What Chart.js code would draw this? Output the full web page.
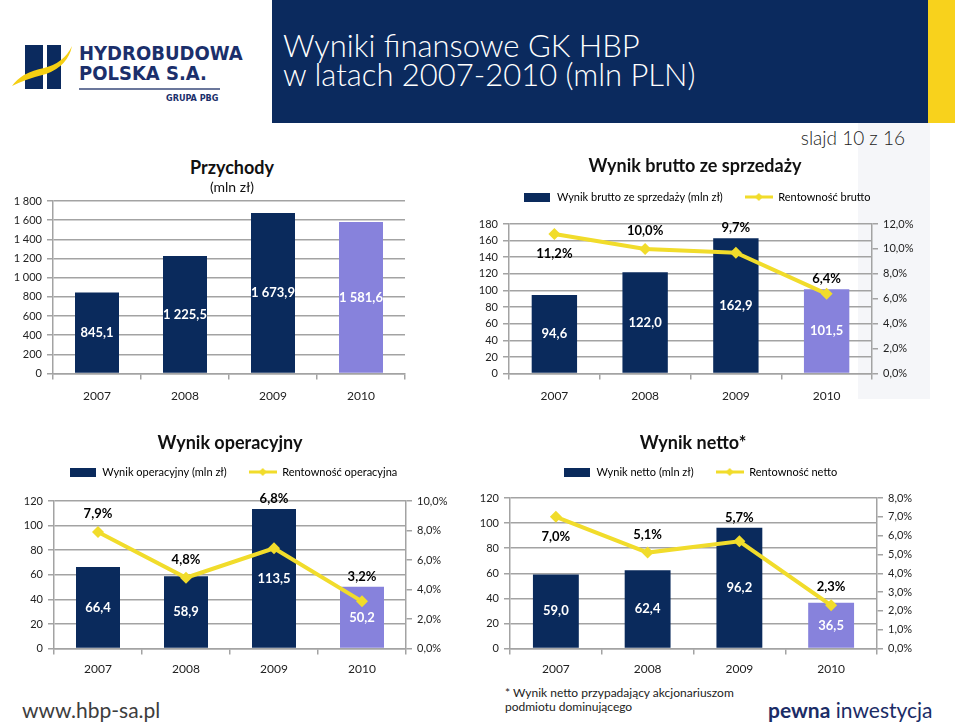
<!DOCTYPE html>
<html>
<head>
<meta charset="utf-8">
<script src="https://cdn.jsdelivr.net/npm/chart.js@4"></script>
<style>
body{margin:0;width:960px;height:728px;position:relative;background:#fff;font-family:Lato,"DejaVu Sans",sans-serif;overflow:hidden}
.abs{position:absolute}
canvas{position:absolute;z-index:2}
#band{left:272px;top:0;width:656px;height:123px;background:#0b2a5e}
#strip{left:928px;top:0;width:27px;height:123px;background:#f8d21c}
#panel{left:858px;top:123px;width:72px;height:276px;background:#f5f6f9;z-index:0}
#title{left:283px;top:31px;color:#fff;font-size:31px;font-weight:300;line-height:29px;white-space:nowrap}
#slide{right:55px;top:126px;font-size:19px;font-weight:300;color:#222;z-index:3}
.ct{text-align:center;font-weight:bold;font-size:18px;color:#111;z-index:3;white-space:nowrap}
.logo1{font-family:"DejaVu Sans Condensed","DejaVu Sans",sans-serif;font-weight:bold;color:#1b2f6b;font-size:20px;line-height:20px;white-space:nowrap}
</style>
</head>
<body>
<div id="band" class="abs"></div>
<div id="strip" class="abs"></div>
<div id="panel" class="abs"></div>

<svg class="abs" style="left:0;top:0" width="230" height="110">
  <rect x="25" y="45" width="18" height="44" fill="#0b2a5e"/>
  <rect x="47" y="45" width="14" height="44" fill="#0b2a5e"/>
  <path d="M12,86 Q22,72 44,68 Q64,63 72,46 Q68,66 46,74 Q26,79 12,86 Z" fill="#f5cf12"/>
  <line x1="79" y1="89" x2="220" y2="89" stroke="#3a4a7a" stroke-width="1.5"/>
</svg>
<div class="abs logo1" style="left:79px;top:43px">HYDROBUDOWA</div>
<div class="abs logo1" style="left:79px;top:63px">POLSKA S.A.</div>
<div class="abs" style="left:166px;top:93px;font-size:9px;font-weight:bold;color:#1b2f6b;font-family:'DejaVu Sans Condensed',sans-serif">GRUPA PBG</div>

<div id="title" class="abs">Wyniki finansowe GK HBP<br>w latach 2007-2010 (mln PLN)</div>
<div id="slide" class="abs">slajd 10 z 16</div>

<div class="abs ct" style="left:82px;top:156px;width:300px">Przychody</div>
<div class="abs ct" style="left:82px;top:178px;width:300px;font-weight:normal;font-size:14px">(mln zł)</div>
<div class="abs ct" style="left:545px;top:154px;width:300px">Wynik brutto ze sprzedaży</div>
<div class="abs ct" style="left:80px;top:431px;width:300px">Wynik operacyjny</div>
<div class="abs ct" style="left:543px;top:431px;width:300px">Wynik netto*</div>

<canvas id="c1" style="left:0;top:185px" width="420" height="231"></canvas>
<canvas id="c2" style="left:440px;top:160px" width="514" height="255"></canvas>
<canvas id="c3" style="left:0;top:435px" width="466" height="251"></canvas>
<canvas id="c4" style="left:480px;top:435px" width="440" height="251"></canvas>

<div class="abs" style="left:22px;top:697px;font-size:21px;color:#3d3d3d">www.hbp-sa.pl</div>
<div class="abs" style="left:505px;top:686px;font-size:12px;line-height:14px;color:#222">* Wynik netto przypadający akcjonariuszom<br>podmiotu dominującego</div>
<div class="abs" style="left:768px;top:697px;font-size:21px;color:#1b2c66"><b>pewna</b> inwestycja</div>

<script>
const years = ['2007', '2008', '2009', '2010'];
const przychody = [845.1, 1225.5, 1673.9, 1581.6];
const brutto = [94.6, 122.0, 162.9, 101.5];
const rentBrutto = [11.2, 10.0, 9.7, 6.4];
const operacyjny = [66.4, 58.9, 113.5, 50.2];
const rentOper = [7.9, 4.8, 6.8, 3.2];
const netto = [59.0, 62.4, 96.2, 36.5];
const rentNetto = [7.0, 5.1, 5.7, 2.3];

const NAVY = '#0a2a5c';
const LAV = '#8782dc';
const YEL = '#f1dc2b';
const GRID = '#a3a3a3';
const barColors = [NAVY, NAVY, NAVY, LAV];

Chart.defaults.font.family = 'Lato, "DejaVu Sans", sans-serif';

// polish number format: 1 225,5
function pl(v, d) {
    const s = v.toFixed(d).split('.');
    const i = s[0].replace(/\B(?=(\d{3})+(?!\d))/g, ' ');
    return s[1] ? i + ',' + s[1] : i;
}

function legendBox() {
    const c = document.createElement('canvas');
    c.width = 26; c.height = 9;
    const g = c.getContext('2d');
    g.fillStyle = NAVY;
    g.fillRect(0, 0, 26, 9);
    return c;
}
function legendLine() {
    const c = document.createElement('canvas');
    c.width = 28; c.height = 10;
    const g = c.getContext('2d');
    g.fillStyle = YEL;
    g.fillRect(0, 3.5, 28, 3);
    g.beginPath();
    g.moveTo(14, 1); g.lineTo(18, 5); g.lineTo(14, 9); g.lineTo(10, 5);
    g.fill();
    return c;
}
const boxImg = legendBox();
const lineImg = legendLine();

// extra space under the legend
const legendGap = {
    id: 'legendGap',
    beforeInit(chart, args, opts) {
        const lg = chart.legend;
        if (!lg) return;
        const fit = lg.fit;
        lg.fit = function () {
            fit.call(this);
            this.height += opts.extra || 0;
        };
    }
};

const valueLabels = {
    id: 'valueLabels',
    afterDatasetsDraw(chart, args, opts) {
        const ctx = chart.ctx;
        const bars = chart.getDatasetMeta(0);
        const barData = chart.data.datasets[0].data;
        ctx.save();
        ctx.textAlign = 'center';
        ctx.textBaseline = 'middle';
        ctx.font = 'bold 13px Lato, sans-serif';
        ctx.fillStyle = '#fff';
        bars.data.forEach((el, i) => {
            ctx.fillText(pl(barData[i], 1), el.x, (el.y + el.base) / 2);
        });
        if (chart.data.datasets.length > 1) {
            const line = chart.getDatasetMeta(1);
            const lineData = chart.data.datasets[1].data;
            const below = opts.below || [];
            ctx.fillStyle = '#000';
            line.data.forEach((pt, i) => {
                const top = bars.data[i].y;
                let y;
                if (below.includes(i)) y = pt.y + 20;
                else if (top < pt.y - 3) y = top - 10;
                else y = pt.y - 18;
                ctx.fillText(pl(lineData[i], 1) + '%', pt.x, y);
            });
        }
        ctx.restore();
    }
};

function buildChart(id, c) {
    const datasets = [{
        type: 'bar',
        label: c.barLabel,
        data: c.bars,
        backgroundColor: barColors,
        order: 1,
        barPercentage: 0.5,
        categoryPercentage: 1,
        yAxisID: 'y'
    }];
    if (c.line) {
        datasets.push({
            type: 'line',
            label: c.lineLabel,
            data: c.line,
            yAxisID: 'y2',
            order: 0,
            borderColor: YEL,
            backgroundColor: YEL,
            borderWidth: 4,
            pointStyle: 'rectRot',
            pointRadius: 6,
            pointBackgroundColor: YEL,
            pointBorderColor: YEL,
            pointBorderWidth: 0
        });
    }
    const scales = {
        x: {
            grid: { offset: true, drawOnChartArea: false, tickLength: 6, color: GRID, lineWidth: 1.5 },
            border: { color: GRID, width: 1.5 },
            ticks: { color: '#222', font: { size: 12 }, padding: c.xPad }
        },
        y: {
            min: 0, max: c.yMax,
            ticks: { stepSize: c.yStep, autoSkip: false, color: '#222', font: { size: 11 }, padding: 5, callback: v => pl(v, 0) },
            grid: { color: GRID, lineWidth: 1.5, tickLength: 6 },
            border: { color: GRID, width: 1.5 },
            afterFit: s => { s.width = c.yWidth; }
        }
    };
    if (c.line) {
        scales.y2 = {
            position: 'right',
            min: 0, max: c.y2Max,
            ticks: { stepSize: c.y2Step, autoSkip: false, color: '#222', font: { size: 11 }, padding: 5, callback: v => pl(v, 1) + '%' },
            grid: { drawOnChartArea: false, color: GRID, lineWidth: 1.5, tickLength: 6 },
            border: { color: GRID, width: 1.5 },
            afterFit: s => { s.width = c.y2Width; }
        };
    }
    return new Chart(document.getElementById(id), {
        data: { labels: years, datasets: datasets },
        options: {
            responsive: false,
            animation: false,
            layout: { padding: c.padding },
            scales: scales,
            plugins: {
                tooltip: { enabled: false },
                legend: {
                    display: !!c.line,
                    labels: {
                        usePointStyle: true,
                        pointStyleWidth: 28,
                        boxHeight: 10,
                        padding: 22,
                        color: '#000',
                        font: { size: 11 },
                        generateLabels: chart => chart.data.datasets.map((ds, i) => ({
                            text: ds.label,
                            pointStyle: i === 0 ? boxImg : lineImg,
                            datasetIndex: i,
                            hidden: false,
                            lineWidth: 0,
                            strokeStyle: 'rgba(0,0,0,0)',
                            fillStyle: 'rgba(0,0,0,0)'
                        }))
                    }
                },
                legendGap: { extra: c.extra || 0 },
                valueLabels: { below: c.below || [] }
            }
        },
        plugins: [legendGap, valueLabels]
    });
}

buildChart('c1', {
    barLabel: 'Przychody (mln zł)', bars: przychody,
    yMax: 1800, yStep: 200, yWidth: 53, xPad: 9,
    padding: { top: 16, right: 15, bottom: 4, left: 0 }
});

buildChart('c2', {
    barLabel: 'Wynik brutto ze sprzedaży (mln zł)', bars: brutto,
    lineLabel: 'Rentowność brutto', line: rentBrutto,
    yMax: 180, yStep: 20, y2Max: 12, y2Step: 2,
    yWidth: 69, y2Width: 82, xPad: 9, extra: 11.5, below: [0],
    padding: { top: 9.5, right: 0, bottom: 3, left: 0 }
});

buildChart('c3', {
    barLabel: 'Wynik operacyjny (mln zł)', bars: operacyjny,
    lineLabel: 'Rentowność operacyjna', line: rentOper,
    yMax: 120, yStep: 20, y2Max: 10, y2Step: 2,
    yWidth: 54, y2Width: 60, xPad: 7, extra: 13.5,
    padding: { top: 9.5, right: 0, bottom: 3, left: 0 }
});

buildChart('c4', {
    barLabel: 'Wynik netto (mln zł)', bars: netto,
    lineLabel: 'Rentowność netto', line: rentNetto,
    yMax: 120, yStep: 20, y2Max: 8, y2Step: 1,
    yWidth: 30, y2Width: 43, xPad: 7, extra: 10.5, below: [0],
    padding: { top: 9.5, right: 0, bottom: 3, left: 0 }
});
</script>
</body>
</html>
